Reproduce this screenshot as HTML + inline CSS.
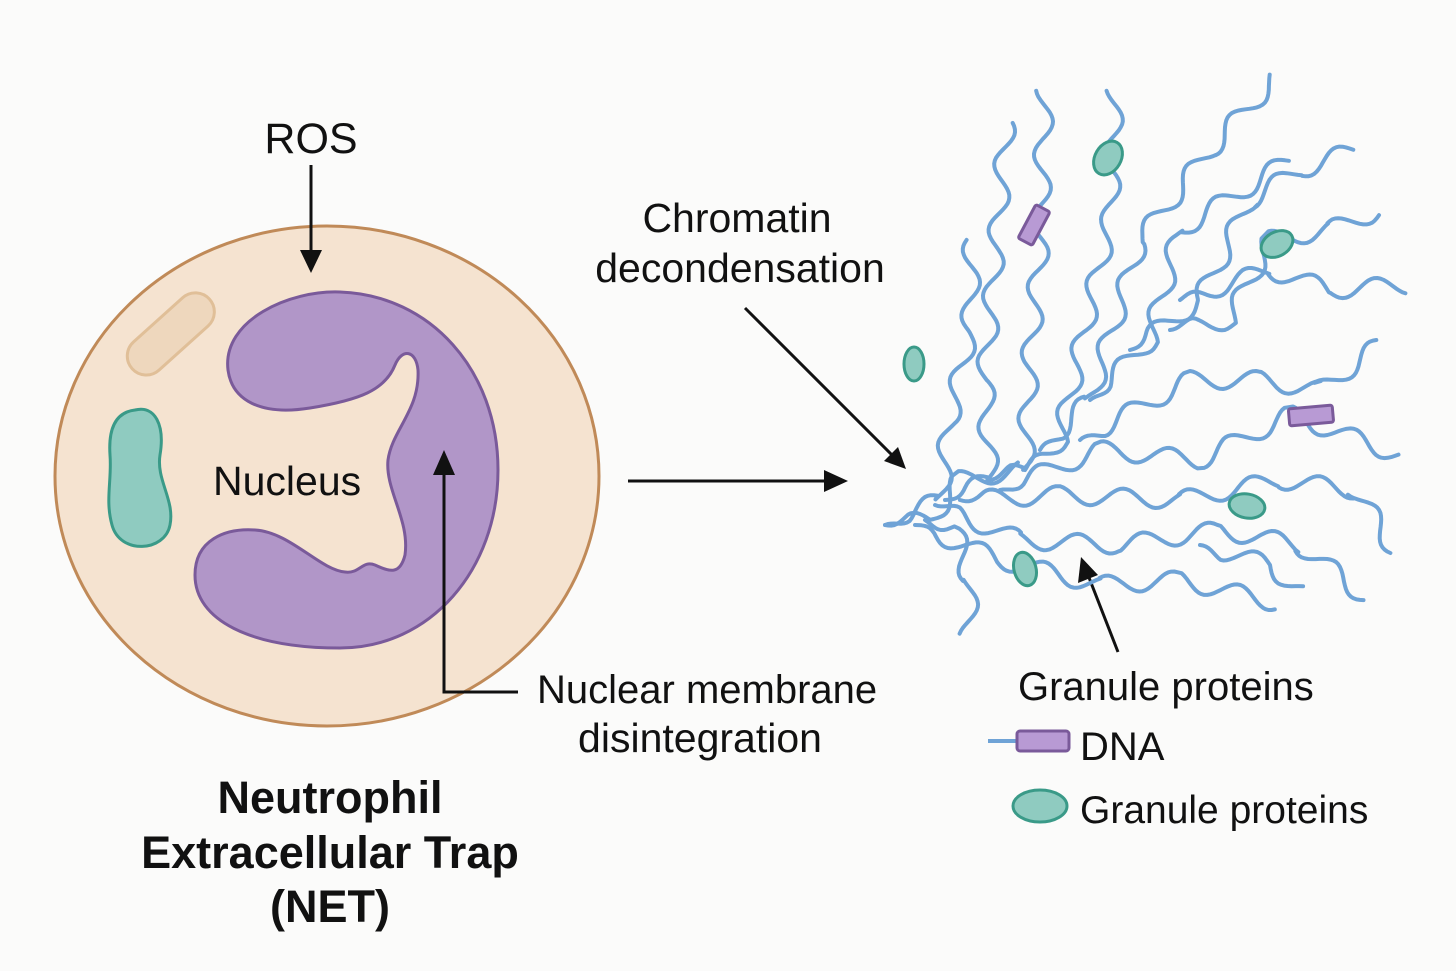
<!DOCTYPE html>
<html><head><meta charset="utf-8"><style>
html,body{margin:0;padding:0;background:#fbfbfa}
svg{display:block}
text{font-family:"Liberation Sans",sans-serif;fill:#111}
</style></head><body>
<svg id="s" width="1456" height="971" viewBox="0 0 1456 971" xmlns="http://www.w3.org/2000/svg">
<rect width="1456" height="971" fill="#fbfbfa"/>
<ellipse cx="327" cy="476" rx="272" ry="250" fill="#f5e3d0" stroke="#c08a58" stroke-width="3"/>
<g transform="rotate(-42 170 336)"><rect x="120" y="316" width="104" height="38" rx="19" fill="#eed7bd" stroke="#e0bf98" stroke-width="3"/></g>
<path d="M135,410 C155,405 165,425 160,455 C156,480 175,500 170,525 C165,552 120,555 112,525 C105,500 112,480 110,455 C108,425 118,412 135,410 Z" fill="#8fcbc0" stroke="#3a9a88" stroke-width="3"/>
<path d="M228,370 C222,320 290,290 340,292 C430,295 498,370 498,470 C498,570 430,648 340,648 C250,648 195,620 195,575 C195,540 225,528 255,530 C290,532 320,570 345,572 C360,574 362,560 375,565 C390,572 400,575 405,555 C410,520 385,490 388,460 C392,430 420,410 418,370 C416,350 402,348 395,365 C385,390 360,400 310,408 C260,416 232,400 228,370 Z" fill="#b196c8" stroke="#7a5a9a" stroke-width="3"/>
<text x="213" y="495" font-size="41">Nucleus</text>
<text x="311" y="153" font-size="43" text-anchor="middle">ROS</text>
<g stroke="#111" stroke-width="3" fill="none">
<line x1="311" y1="165" x2="311" y2="255"/>
<line x1="628" y1="481" x2="830" y2="481"/>
<line x1="745" y1="308" x2="893" y2="456"/>
<polyline points="518,692 444,692 444,470"/>
<line x1="1118" y1="652" x2="1088" y2="575"/>
</g>
<g fill="#111">
<polygon points="311,273 300,250 322,250"/>
<polygon points="848,481 824,470 824,492"/>
<polygon points="906,469 884,461 898,447"/>
<polygon points="444,450 433,475 455,475"/>
<polygon points="1081,557 1078,583 1098,575"/>
</g>
<text x="737" y="232" font-size="41" text-anchor="middle">Chromatin</text>
<text x="740" y="282" font-size="41" text-anchor="middle">decondensation</text>
<text x="537" y="703" font-size="40">Nuclear membrane</text>
<text x="700" y="752" font-size="41" text-anchor="middle">disintegration</text>
<text x="1018" y="700" font-size="40">Granule proteins</text>
<line x1="988" y1="741" x2="1017" y2="741" stroke="#6fa3d6" stroke-width="4"/>
<rect x="1017" y="731" width="52" height="20" rx="3" fill="#b89ad4" stroke="#7a5a9a" stroke-width="3"/>
<text x="1080" y="760" font-size="40">DNA</text>
<ellipse cx="1040" cy="806" rx="27" ry="16" fill="#8fcbc0" stroke="#3a9a88" stroke-width="3"/>
<text x="1080" y="823" font-size="39">Granule proteins</text>
<g font-weight="bold" font-size="45" text-anchor="middle">
<text x="330" y="813">Neutrophil</text>
<text x="330" y="868">Extracellular Trap</text>
<text x="330" y="922">(NET)</text>
</g>
<g id="net" fill="none" stroke="#6fa3d6" stroke-width="4" stroke-linecap="round" stroke-linejoin="round"></g>
<g id="obj"></g>
</svg>
<script>
var S=[
[[885,525],[940,500],[950,420],[970,330],[972,240]],
[[945,500],[990,480],[985,380],[995,260],[1007,120]],
[[990,480],[1025,470],[1030,360],[1040,250],[1045,90]],
[[1025,470],[1060,440],[1080,350],[1110,220],[1115,90]],
[[1040,450],[1090,400],[1140,240],[1210,150],[1275,78]],
[[1090,400],[1150,340],[1180,230],[1290,160]],
[[1130,350],[1200,300],[1250,200],[1300,170],[1355,150]],
[[1170,330],[1230,320],[1270,240],[1330,230],[1380,210]],
[[1180,300],[1270,270],[1330,290],[1405,285]],
[[1080,440],[1190,380],[1260,380],[1320,390],[1380,345]],
[[1000,490],[1100,450],[1200,460],[1290,415],[1345,435],[1400,455]],
[[960,500],[1060,495],[1180,500],[1280,480],[1355,490],[1395,550]],
[[935,505],[1020,540],[1120,545],[1220,530],[1300,545],[1367,598]],
[[915,525],[1000,560],[1100,585],[1180,580],[1278,603]],
[[1200,545],[1270,565],[1300,590]],
[[925,520],[955,530],[970,580],[968,635]],
[[885,525],[930,520],[960,480],[1020,470]]
];
var g=document.getElementById('net'),ns='http://www.w3.org/2000/svg';
S.forEach(function(p,k){var d='',s=0,A=9,L=66,ph=k*1.3;
for(var i=0;i<p.length-1;i++){var x0=p[i][0],y0=p[i][1],x1=p[i+1][0],y1=p[i+1][1];var dx=x1-x0,dy=y1-y0,len=Math.hypot(dx,dy),nx=-dy/len,ny=dx/len;
for(var t=0;t<=len;t+=3){var a=(i==0&&t<25)?t/25:1;var o=A*a*Math.sin(2*Math.PI*(s+t)/L+ph);var x=x0+dx*t/len+nx*o,y=y0+dy*t/len+ny*o;d+=(d?'L':'M')+x.toFixed(1)+','+y.toFixed(1);}
s+=len;}
var e=document.createElementNS(ns,'path');e.setAttribute('d',d);g.appendChild(e);});
var o=document.getElementById('obj');
o.innerHTML='<g fill="#8fcbc0" stroke="#3a9a88" stroke-width="3">'+
'<ellipse cx="1108" cy="158" rx="13" ry="18" transform="rotate(30 1108 158)"/>'+
'<ellipse cx="1277" cy="244" rx="17" ry="12" transform="rotate(-30 1277 244)"/>'+
'<ellipse cx="914" cy="364" rx="10" ry="17"/>'+
'<ellipse cx="1247" cy="506" rx="18" ry="12" transform="rotate(10 1247 506)"/>'+
'<ellipse cx="1025" cy="569" rx="11" ry="17" transform="rotate(-15 1025 569)"/></g>'+
'<g fill="#b89ad4" stroke="#7a5a9a" stroke-width="3">'+
'<rect x="1015" y="217" width="38" height="16" rx="2" transform="rotate(-62 1034 225)"/>'+
'<rect x="1289" y="407" width="44" height="17" rx="2" transform="rotate(-5 1311 416)"/></g>';
</script>
</body></html>
